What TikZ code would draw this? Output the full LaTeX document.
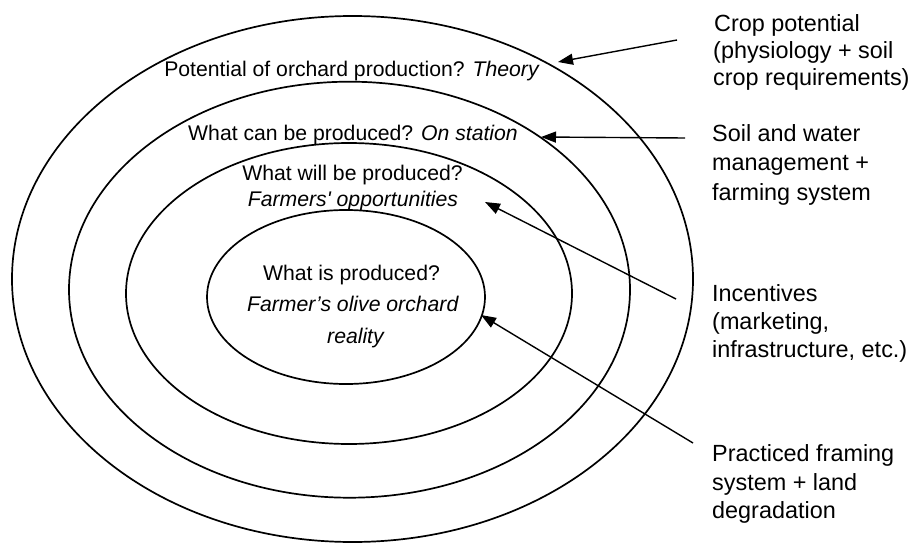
\documentclass[tikz,border=0pt]{standalone}
\usepackage{fontspec}
\newfontfamily\arialf{Liberation Sans}
\usetikzlibrary{arrows.meta}
\begin{document}
\begin{tikzpicture}[x=1pt,y=-1pt,
  ring/.style={draw, line width=1.7pt},
  ptr/.style={line width=1.4pt, -{Triangle[length=15pt,width=11pt]}},
  intext/.style={inner sep=0pt, anchor=base, font=\arialf\fontsize{21.2}{25}\selectfont},
  sidetext/.style={inner sep=0pt, anchor=base west, font=\arialf\fontsize{23.4}{28}\selectfont}]
\useasboundingbox (0,0) rectangle (915,543);
% rings
\draw[ring] (352.5,279) ellipse [x radius=340.5pt, y radius=263pt];
\draw[ring] (349.5,289.7) ellipse [x radius=280.5pt, y radius=208pt];
\draw[ring] (349,293.5) ellipse [x radius=223pt, y radius=150.5pt];
\draw[ring] (346,297) ellipse [x radius=139pt, y radius=87pt];
% texts inside rings
\node[intext] (t1) at (352,76) {Potential of orchard production? \textit{Theory}};
\node[intext] (t2) at (353,140) {What can be produced? \textit{On station}};
\node[intext] (t3a) at (352.5,180) {What will be produced?};
\node[intext] (t3b) at (353,206.5) {\textit{Farmers' opportunities}};
\node[intext] (t4a) at (351.5,280) {What is produced?};
\node[intext] (t4b) at (353,311.7) {\textit{Farmer’s olive orchard}};
\node[intext] (t4c) at (356,343.5) {\textit{reality}};
% side texts
\node[sidetext] (a1) at (714,32) {Crop potential};
\node[sidetext] (a2) at (713,58.5) {(physiology + soil};
\node[sidetext] (a3) at (713,85) {crop requirements)};
\node[sidetext] (b1) at (712,141.5) {Soil and water};
\node[sidetext] (b2) at (712,170.5) {management +};
\node[sidetext] (b3) at (712,200) {farming system};
\node[sidetext] (c1) at (712,301.8) {Incentives};
\node[sidetext] (c2) at (712,329.5) {(marketing,};
\node[sidetext] (c3) at (712,357.5) {infrastructure, etc.)};
\node[sidetext] (d1) at (712,461.8) {Practiced framing};
\node[sidetext] (d2) at (712,490) {system + land};
\node[sidetext] (d3) at (712,518.5) {degradation};
% arrow ends
\coordinate (s1) at (677,40);
\coordinate (e1) at (558,62);
\coordinate (s2) at (685,138);
\coordinate (e2) at (541,137);
\coordinate (s3) at (676,299);
\coordinate (e3) at (485,202);
\coordinate (s4) at (693,443);
\coordinate (e4) at (481,315);
\draw[ptr] (s1) -- (e1);
\draw[ptr] (s2) -- (e2);
\draw[ptr] (s3) -- (e3);
\draw[ptr] (s4) -- (e4);
\end{tikzpicture}
\end{document}
